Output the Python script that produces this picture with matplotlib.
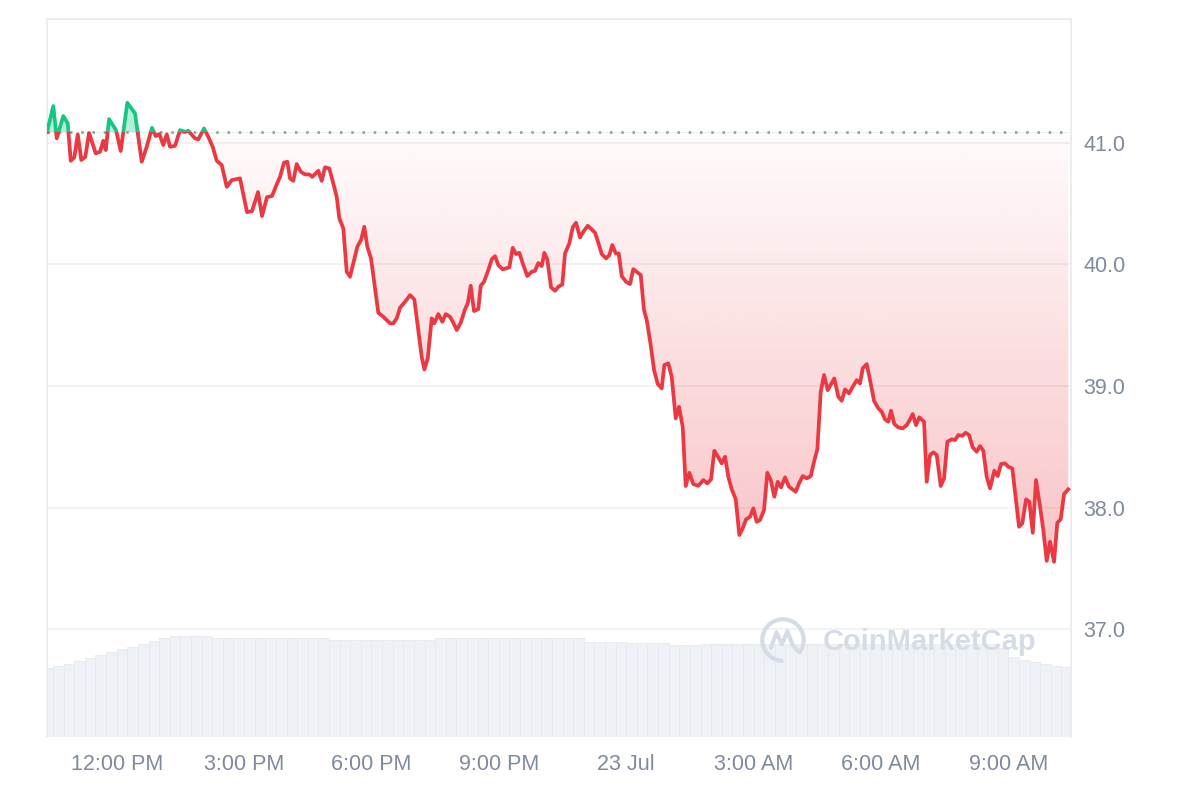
import numpy as np
import matplotlib.pyplot as plt
from matplotlib.patches import Rectangle, Arc
from matplotlib.path import Path

plt.rcParams['font.family'] = ['Liberation Sans', 'DejaVu Sans']

# time in hours since 22 Jul 00:00, price in USD
hours = [10.358, 10.507, 10.587, 10.742, 10.846, 10.917, 11.001, 11.082, 11.166, 11.261,
         11.348, 11.505, 11.607, 11.684, 11.741, 11.819, 11.984, 12.094, 12.250, 12.431,
         12.589, 12.707, 12.831, 12.919, 13.003, 13.098, 13.178, 13.255, 13.373, 13.491,
         13.609, 13.686, 13.844, 13.922, 14.056, 14.157, 14.261, 14.355, 14.473, 14.591,
         14.709, 14.904, 15.069, 15.187, 15.328, 15.422, 15.540, 15.658, 15.752, 15.846,
         15.940, 16.018, 16.082, 16.159, 16.239, 16.334, 16.435, 16.536, 16.607, 16.748,
         16.828, 16.906, 17.007, 17.101, 17.181, 17.243, 17.337, 17.417, 17.495, 17.572,
         17.667, 17.754, 17.831, 17.902, 17.989, 18.067, 18.161, 18.279, 18.437, 18.514,
         18.595, 18.672, 18.790, 18.908, 19.009, 19.103, 19.183, 19.245, 19.325, 19.419,
         19.480, 19.574, 19.669, 19.749, 19.850, 19.928, 20.008, 20.102, 20.203, 20.267,
         20.337, 20.415, 20.516, 20.573, 20.651, 20.752, 20.832, 20.910, 20.987, 21.091,
         21.247, 21.327, 21.404, 21.482, 21.576, 21.670, 21.774, 21.852, 21.930, 22.010,
         22.071, 22.141, 22.229, 22.323, 22.401, 22.495, 22.558, 22.660, 22.740, 22.817,
         22.912, 22.989, 23.093, 23.187, 23.265, 23.343, 23.423, 23.524, 23.602, 23.672,
         23.753, 23.823, 23.894, 23.995, 24.089, 24.167, 24.247, 24.341, 24.419, 24.483,
         24.577, 24.655, 24.742, 24.836, 24.897, 24.991, 25.071, 25.166, 25.243, 25.330,
         25.401, 25.486, 25.580, 25.698, 25.816, 25.910, 25.997, 26.075, 26.169, 26.249,
         26.327, 26.404, 26.485, 26.579, 26.664, 26.744, 26.821, 26.916, 26.993, 27.073,
         27.151, 27.245, 27.323, 27.403, 27.488, 27.568, 27.646, 27.740, 27.834, 27.992,
         28.070, 28.157, 28.251, 28.345, 28.423, 28.501, 28.581, 28.658, 28.745, 28.901,
         28.995, 29.075, 29.153, 29.247, 29.334, 29.428, 29.506, 29.570, 29.664, 29.758,
         29.836, 29.937, 30.017, 30.095, 30.173, 30.236, 30.314, 30.408, 30.512, 30.606,
         30.684, 30.747, 30.825, 30.903, 31.014, 31.077, 31.155, 31.233, 31.313, 31.407,
         31.485, 31.562, 31.666, 31.744, 31.821, 31.916, 31.996, 32.073, 32.160, 32.255,
         32.332, 32.410, 32.490, 32.568, 32.669, 32.749, 32.827, 32.921, 32.999, 33.093,
         33.251, 33.329, 33.416, 33.494, 33.574, 33.651, 33.746, 33.823, 33.903, 33.981,
         34.075, 34.153, 34.233, 34.311, 34.412]
prices = [41.088, 41.302, 41.036, 41.220, 41.160, 40.852, 40.880, 41.069, 40.858, 40.885,
          41.082, 40.913, 40.926, 41.016, 40.940, 41.195, 41.104, 40.932, 41.329, 41.242,
          40.844, 40.967, 41.123, 41.055, 41.072, 40.981, 41.069, 40.967, 40.975, 41.104,
          41.090, 41.099, 41.036, 41.028, 41.118, 41.049, 40.967, 40.852, 40.817, 40.638,
          40.693, 40.707, 40.430, 40.438, 40.595, 40.397, 40.553, 40.562, 40.644, 40.720,
          40.836, 40.844, 40.707, 40.687, 40.825, 40.762, 40.740, 40.740, 40.720, 40.770,
          40.687, 40.798, 40.789, 40.666, 40.556, 40.378, 40.296, 39.939, 39.898, 40.008,
          40.145, 40.200, 40.309, 40.145, 40.049, 39.844, 39.602, 39.569, 39.515, 39.515,
          39.556, 39.643, 39.692, 39.747, 39.712, 39.460, 39.240, 39.136, 39.227, 39.556,
          39.515, 39.591, 39.528, 39.591, 39.569, 39.520, 39.460, 39.520, 39.630, 39.679,
          39.824, 39.616, 39.632, 39.824, 39.857, 39.953, 40.041, 40.068, 39.994, 39.959,
          39.975, 40.136, 40.085, 40.095, 39.994, 39.904, 39.939, 39.947, 40.011, 39.986,
          40.095, 40.041, 39.811, 39.783, 39.816, 39.835, 40.090, 40.173, 40.304, 40.342,
          40.222, 40.268, 40.317, 40.288, 40.260, 40.178, 40.085, 40.049, 40.076, 40.159,
          40.090, 40.090, 39.904, 39.857, 39.838, 39.961, 39.939, 39.912, 39.624, 39.542,
          39.336, 39.131, 39.016, 38.980, 39.172, 39.186, 39.076, 38.733, 38.829, 38.664,
          38.177, 38.286, 38.193, 38.179, 38.226, 38.199, 38.232, 38.467, 38.413, 38.363,
          38.418, 38.253, 38.150, 38.067, 37.774, 37.829, 37.903, 37.924, 37.993, 37.883,
          37.897, 37.979, 38.286, 38.226, 38.089, 38.212, 38.166, 38.248, 38.171, 38.130,
          38.199, 38.259, 38.240, 38.259, 38.377, 38.479, 38.952, 39.090, 38.966, 39.062,
          38.911, 38.878, 38.972, 38.939, 38.993, 39.048, 39.021, 39.145, 39.180, 39.021,
          38.878, 38.816, 38.788, 38.725, 38.706, 38.796, 38.687, 38.659, 38.651, 38.678,
          38.725, 38.769, 38.678, 38.742, 38.706, 38.212, 38.432, 38.454, 38.432, 38.177,
          38.240, 38.541, 38.561, 38.555, 38.596, 38.590, 38.615, 38.596, 38.495, 38.459,
          38.506, 38.467, 38.253, 38.158, 38.303, 38.259, 38.358, 38.363, 38.335, 38.322,
          37.842, 37.870, 38.067, 38.048, 37.793, 38.226, 38.006, 37.815, 37.562, 37.719,
          37.554, 37.875, 37.903, 38.111, 38.150]

# 24h volume (millions), one bar every 15 minutes
vol_hours = np.arange(10.375, 34.5, 0.25)
volume = [6.95, 7.06, 7.34, 7.63, 7.91, 8.19, 8.48, 8.76, 9.05, 9.33, 9.61,
          9.90, 10.1, 10.1, 10.1, 10.1, 9.87, 9.87, 9.87, 9.87, 9.87,
          9.87, 9.87, 9.87, 9.87, 9.87, 9.87, 9.70, 9.70, 9.70, 9.70,
          9.70, 9.70, 9.70, 9.70, 9.70, 9.70, 9.87, 9.87, 9.87, 9.87,
          9.87, 9.87, 9.87, 9.87, 9.87, 9.87, 9.87, 9.87, 9.87, 9.87,
          9.55, 9.55, 9.50, 9.50, 9.45, 9.45, 9.40, 9.40, 9.20, 9.20,
          9.20, 9.30, 9.30, 9.30, 9.30, 9.30, 9.30, 9.30, 9.30, 9.30,
          9.30, 9.30, 9.30, 9.30, 9.30, 9.30, 9.30, 9.30, 9.30, 9.30,
          9.30, 9.30, 9.30, 9.30, 9.30, 9.30, 9.30, 9.30, 9.30, 8.90,
          8.00, 7.70, 7.50, 7.30, 7.10, 7.00, 6.95]

tick_hours = [12, 15, 18, 21, 24, 27, 30, 33]
tick_labels = ['12:00 PM', '3:00 PM', '6:00 PM', '9:00 PM', '23 Jul', '3:00 AM', '6:00 AM', '9:00 AM']
price_ticks = [37.0, 38.0, 39.0, 40.0, 41.0]

red = '#ea3943'
green = '#16c784'
grey_txt = '#808a9d'

x = np.array(hours)
p = np.array(prices)
base = p[0]
x0, x1 = 10.358, 34.475
y0, y1 = 36.113, 42.018

fig = plt.figure(figsize=(12, 8), dpi=100)
rect = [47 / 1200, 63 / 800, 1024 / 1200, 718 / 800]
axv = fig.add_axes(rect)
ax = axv.twinx()

# volume bars
n = min(len(vol_hours), len(volume))
axv.bar(vol_hours[:n], volume[:n], width=0.25, color='#eef1f5',
        edgecolor='#e6eaef', linewidth=0.6, zorder=1)
axv.set_ylim(0, 71.8)
axv.set_yticks([])
for s in axv.spines.values():
    s.set_visible(False)

ax.set_xlim(x0, x1)
ax.set_ylim(y0, y1)
axv.set_xlim(x0, x1)

# grid
ax.set_yticks(price_ticks)
ax.set_yticklabels([f'{v:.1f}' for v in price_ticks])
ax.grid(axis='y', color='#eff0f2', lw=1.2, zorder=0)
ax.set_axisbelow(True)

# red gradient fill below the opening price
poly = ax.fill_between(x, p, base, color='none', lw=0)
clip_path = Path.make_compound_path(*poly.get_paths())
ymin = p.min()
alpha = np.linspace(0.02, 0.3, 256)
grad = np.zeros((256, 1, 4))
grad[:, 0, 0] = 0xea / 255
grad[:, 0, 1] = 0x39 / 255
grad[:, 0, 2] = 0x43 / 255
grad[:, 0, 3] = alpha
img = ax.imshow(grad, extent=[x0, x1, ymin, base], aspect='auto', origin='upper',
                zorder=1, interpolation='bilinear')
img.set_clip_path(clip_path, ax.transData)

# green fill above it
gfill = ax.fill_between(x, p, base, color=green, alpha=0.3, lw=0, zorder=1)
up_rect = Rectangle((x0, base), x1 - x0, 5, transform=ax.transData)
gfill.set_clip_path(up_rect)
ax.set_xlim(x0, x1)
ax.set_ylim(y0, y1)

# baseline
ax.axhline(base, color='#8f959e', lw=1.8, ls=(0, (1, 3.5)), zorder=2)

# price line, green above the opening price, red below
down_rect = Rectangle((x0, y0 - 5), x1 - x0, base - y0 + 5, transform=ax.transData)
up_rect2 = Rectangle((x0, base), x1 - x0, 5, transform=ax.transData)
lg, = ax.plot(x, p, color=green, lw=2.7, zorder=3, solid_joinstyle='round')
lr, = ax.plot(x, p, color=red, lw=2.7, zorder=3, solid_joinstyle='round')
lg.set_clip_path(up_rect2)
lr.set_clip_path(down_rect)

# axes styling
for side in ['top', 'left', 'right']:
    ax.spines[side].set_color('#ebebed')
    ax.spines[side].set_linewidth(1.3)
ax.spines['bottom'].set_visible(False)
ax.tick_params(axis='y', length=0, pad=9, labelsize=15.5, labelcolor=grey_txt)
axv.set_xticks(tick_hours)
axv.set_xticklabels(tick_labels)
axv.tick_params(axis='x', length=0, pad=12, labelsize=15.5, labelcolor=grey_txt)

# watermark
fig.text(823 / 1200, 1 - 642 / 800, 'CoinMarketCap', fontsize=21, fontweight='bold',
         color='#d6dce6', ha='left', va='center')
lax = fig.add_axes([759 / 1200, 1 - 664 / 800, 48 / 1200, 48 / 800])
lax.set_xlim(-1.1, 1.1)
lax.set_ylim(-1.1, 1.1)
lax.axis('off')
lax.add_patch(Arc((0, 0), 1.9, 1.9, theta1=-40, theta2=270, color='#d6dce6', lw=3))
lax.plot([-0.55, -0.3, -0.05, 0.2, 0.45, 0.75], [-0.35, 0.35, -0.2, 0.4, -0.25, -0.55],
         color='#d6dce6', lw=3, solid_joinstyle='round', solid_capstyle='round')

fig.savefig('out.png', dpi=100)
